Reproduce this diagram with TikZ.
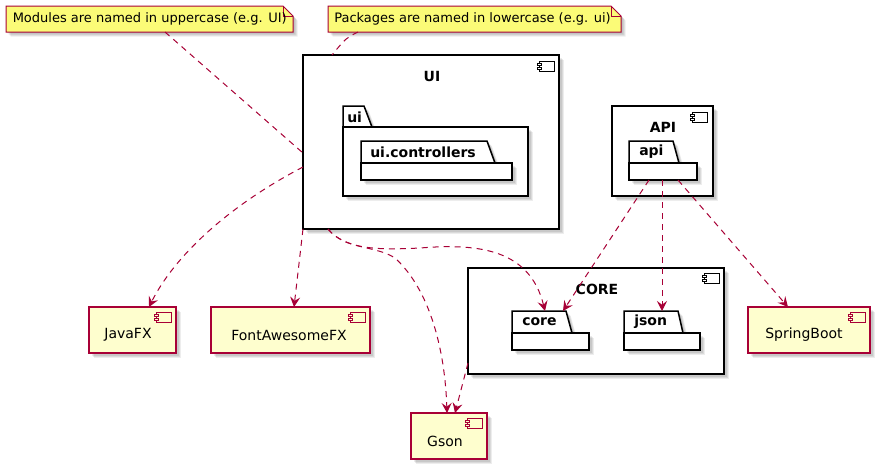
\documentclass[tikz,border=0pt]{standalone}
\usepackage{fontspec}
\setmainfont{DejaVu Sans}
\usetikzlibrary{arrows.meta,calc,shadows}
\definecolor{plred}{HTML}{A80036}
\definecolor{plyel}{HTML}{FEFECE}
\definecolor{plnote}{HTML}{FBFB77}
\tikzset{
  sh/.style={
    general shadow={shadow xshift=1.1pt,shadow yshift=-1.1pt,fill=black,opacity=0.08},
    general shadow={shadow xshift=1.9pt,shadow yshift=-1.9pt,fill=black,opacity=0.08},
    general shadow={shadow xshift=2.7pt,shadow yshift=-2.7pt,fill=black,opacity=0.08},
    general shadow={shadow xshift=3.5pt,shadow yshift=-3.5pt,fill=black,opacity=0.07}},
  wh/.style 2 args={minimum width=#1*0.75pt, minimum height=#2*0.75pt},
  boxbase/.style={rectangle, inner sep=0pt, outer sep=0pt, anchor=north west},
  container/.style={boxbase, draw=black, fill=white, line width=1.125pt, sh},
  comp/.style={boxbase, draw=plred, fill=plyel, line width=1.125pt, sh},
  pkgbody/.style={boxbase, draw=black, fill=white, line width=1.125pt, sh},
  pkgtab/.style={draw=black, fill=white, line width=1.125pt, line join=miter, sh},
  notebox/.style={boxbase},
  noteshape/.style={draw=plred, fill=plnote, line width=0.75pt, sh},
  title/.style={font=\bfseries\fontsize{10.5}{12}\selectfont, inner sep=0pt},
  pkglbl/.style={font=\bfseries\fontsize{10.5}{12}\selectfont, inner sep=0pt, anchor=west},
  lbl/.style={font=\fontsize{10.5}{12}\selectfont, inner sep=0pt},
  notetxt/.style={font=\fontsize{9.75}{12}\selectfont, inner sep=0pt, anchor=west},
  dep/.style={draw=plred, line width=0.75pt, dash pattern=on 4.5pt off 3.75pt,
    -{Stealth[length=7.5pt,width=7.5pt,inset=2.8pt]}},
  link/.style={draw=plred, line width=0.75pt, dash pattern=on 4.5pt off 3.75pt},
  iconb/.pic={
    \draw[black, fill=white, line width=0.75pt] (0,0) rectangle (15,10);
    \draw[black, fill=white, line width=0.75pt] (-2,2) rectangle (2,4);
    \draw[black, fill=white, line width=0.75pt] (-2,6) rectangle (2,8);},
  iconr/.pic={
    \draw[plred, fill=plyel, line width=0.75pt] (0,0) rectangle (15,10);
    \draw[plred, fill=plyel, line width=0.75pt] (-2,2) rectangle (2,4);
    \draw[plred, fill=plyel, line width=0.75pt] (-2,6) rectangle (2,8);},
}
\begin{document}
\begin{tikzpicture}[x=0.75pt,y=-0.75pt]
\useasboundingbox (0,0) rectangle (883,472);
\fill[white] (0,0) rectangle (883,472);

% notes
\node[notebox, wh={287}{26}] (n1) at (6,6) {};
\draw[noteshape] (6,6) -- (283,6) -- (293,16) -- (293,32) -- (6,32) -- cycle;
\draw[plred, line width=0.75pt] (283,6) -- (283,16) -- (293,16);
\node[notetxt] (n1t) at (12.5,19) {Modules are named in uppercase (e.g. UI)};

\node[notebox, wh={293}{26}] (n2) at (328,6) {};
\draw[noteshape] (328,6) -- (611,6) -- (621,16) -- (621,32) -- (328,32) -- cycle;
\draw[plred, line width=0.75pt] (611,6) -- (611,16) -- (621,16);
\node[notetxt] (n2t) at (334,19) {Packages are named in lowercase (e.g. ui)};

% UI module
\node[container, wh={256}{174}] (ui) at (303,55) {};
\node[title] (uit) at (432,76) {UI};
\pic at (539,61) {iconb};
\draw[pkgtab] (343,127) -- (343,106) -- (364,106) -- (372,127) -- cycle;
\node[pkgbody, wh={185}{69}] (uipkg) at (343,127) {};
\node[pkglbl] (uipkgt) at (347,117) {ui};
\draw[pkgtab] (361,163) -- (361,141) -- (487,141) -- (495,163) -- cycle;
\node[pkgbody, wh={151}{17}] (ctrl) at (361,163) {};
\node[pkglbl] (ctrlt) at (370,152) {ui.controllers};

% API module
\node[container, wh={101}{90}] (api) at (612,106) {};
\node[title] (apit) at (663,127) {API};
\pic at (692,112) {iconb};
\draw[pkgtab] (629,163) -- (629,141) -- (673,141) -- (679,163) -- cycle;
\node[pkgbody, wh={68}{17}] (apipkg) at (629,163) {};
\node[pkglbl] (apipkgt) at (639,152) {api};

% CORE module
\node[container, wh={256}{106}] (core) at (468,268) {};
\node[title] (coret) at (597,289) {CORE};
\pic at (704,273) {iconb};
\draw[pkgtab] (512,333) -- (512,311) -- (566,311) -- (572,333) -- cycle;
\node[pkgbody, wh={77}{17}] (corepkg) at (512,333) {};
\node[pkglbl] (corepkgt) at (522,322) {core};
\draw[pkgtab] (624,333) -- (624,311) -- (678,311) -- (683,333) -- cycle;
\node[pkgbody, wh={76}{17}] (jsonpkg) at (624,333) {};
\node[pkglbl] (jsonpkgt) at (634,322) {json};

% libraries
\node[comp, wh={87}{46}] (javafx) at (89,307) {};
\node[lbl] (javafxt) at (128,335) {JavaFX};
\pic at (156,312) {iconr};
\node[comp, wh={159}{46}] (fafx) at (211,307) {};
\node[lbl] (fafxt) at (289,335) {FontAwesomeFX};
\pic at (350,312) {iconr};
\node[comp, wh={76}{46}] (gson) at (411,413) {};
\node[lbl] (gsont) at (445,441) {Gson};
\pic at (467,418) {iconr};
\node[comp, wh={122}{46}] (spring) at (748,307) {};
\node[lbl] (springt) at (804,335) {SpringBoot};
\pic at (850,312) {iconr};

% connectors
\draw[link] ($(n1.south west)+(159,0)$) -- ($(ui.north west)+(0,98)$);
\draw[link] ($(n2.south west)+(30,0)$) .. controls (346,38) .. ($(ui.north west)+(29,0)$);
\draw[dep] ($(ui.north west)+(0,112)$) .. controls (230,205) and (175,255) .. ($(javafx.north west)+(60,0)$);
\draw[dep] (ui.south west) -- ($(fafx.north west)+(83,0)$);
\draw[dep] ($(ui.south west)+(25,0)$) .. controls (345,250) and (380,250) .. (420,248)
  .. controls (480,243) and (530,250) .. ($(corepkg.north west)+(33,-22)$);
\draw[dep] ($(ui.south west)+(25,0)$) .. controls (345,250) and (375,245) .. (395,258)
  .. controls (430,290) and (445,350) .. ($(gson.north west)+(36,0)$);
\draw[dep] ($(core.north west)+(0,95)$) -- ($(gson.north west)+(44,0)$);
\draw[dep] ($(apipkg.south west)+(20,0)$) -- ($(corepkg.north west)+(51,-22)$);
\draw[dep] ($(apipkg.south west)+(33,0)$) -- ($(jsonpkg.north west)+(38,-22)$);
\draw[dep] ($(apipkg.south west)+(49,0)$) -- ($(spring.north west)+(40,0)$);
\end{tikzpicture}
\end{document}
